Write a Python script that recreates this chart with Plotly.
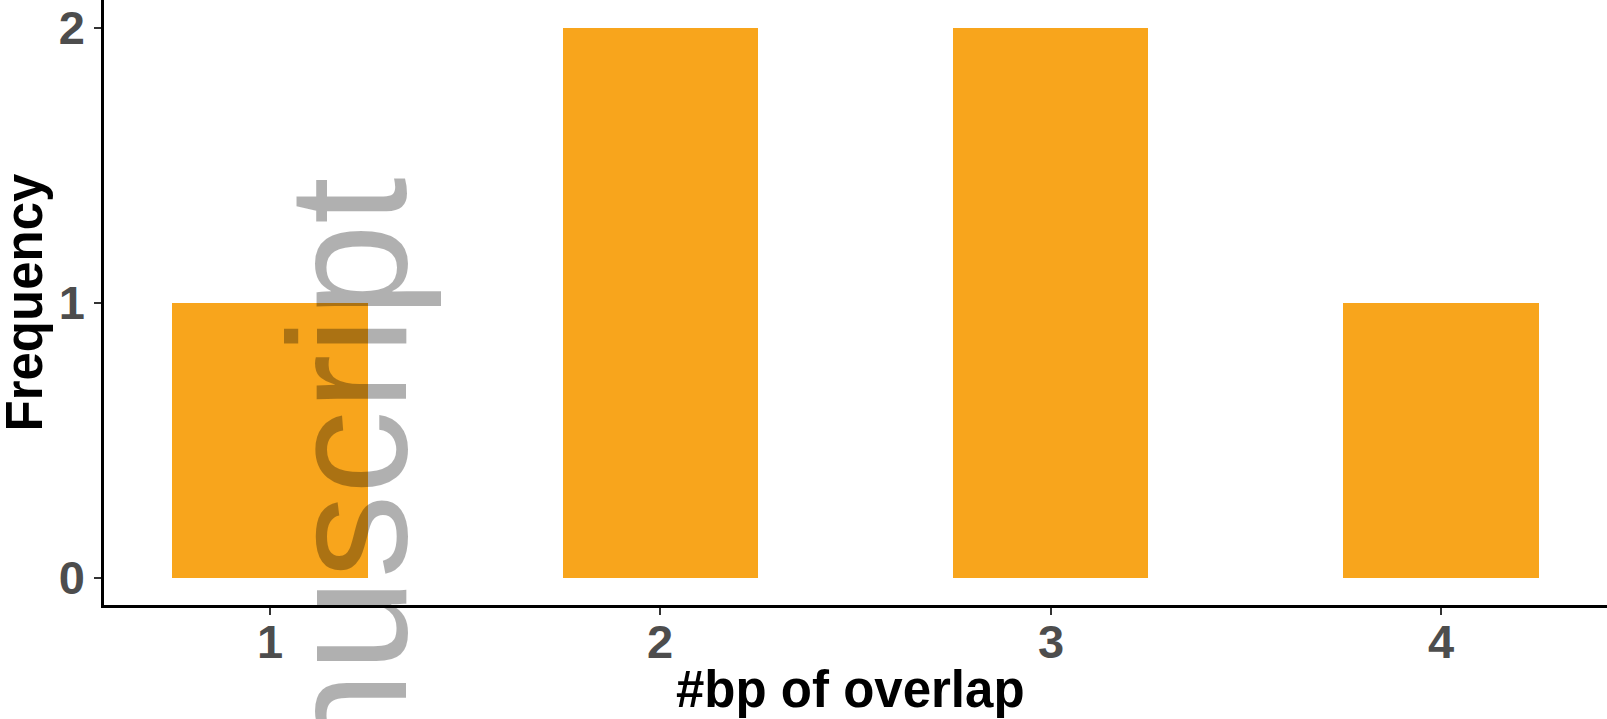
import plotly.graph_objects as go

overlap_bp = [1, 2, 3, 4]
frequency = [1, 2, 2, 1]
x_tick_labels = ["1", "2", "3", "4"]
y_tick_vals = [0, 1, 2]
x_title = "#bp of overlap"
y_title = "Frequency"
watermark = "Author Manuscript"

W, H = 1607, 719
L, R, T, B = 104, 0, 0, 114
PW, PH = W - L - R, H - T - B

fig = go.Figure()
fig.add_trace(go.Bar(
    x=overlap_bp, y=frequency, width=0.5,
    marker=dict(color="#F8A51C", line=dict(width=0)),
))

tickfont = dict(family="Liberation Sans, Arial", size=47, color="#4D4D4D", weight="bold")
titlefont = dict(family="Liberation Sans, Arial", size=51, color="#000000", weight="bold")

fig.update_layout(
    width=W, height=H,
    margin=dict(l=L, r=R, t=T, b=B, pad=0, autoexpand=False),
    paper_bgcolor="white", plot_bgcolor="white",
    showlegend=False,
    bargap=0,
    xaxis=dict(
        range=[0.575, 4.425], tickvals=overlap_bp, showticklabels=False,
        showgrid=False, zeroline=False, automargin=False,
        showline=True, linecolor="black", linewidth=2.5,
        ticks="outside", ticklen=7, tickwidth=2, tickcolor="#333333",
    ),
    yaxis=dict(
        range=[-0.1, 2.1], tickvals=y_tick_vals,
        showgrid=False, zeroline=False, automargin=False,
        showline=True, linecolor="black", linewidth=2.5,
        ticks="outside", ticklen=7, tickwidth=2, tickcolor="#333333",
        tickfont=tickfont,
    ),
)

# x tick labels, placed on the x axis scale just under the axis line
for xv, lab in zip(overlap_bp, x_tick_labels):
    fig.add_annotation(
        text=lab, xref="x", yref="paper", x=xv, y=0,
        xanchor="center", yanchor="middle", yshift=-36,
        showarrow=False, font=tickfont,
    )

# x-axis title
fig.add_annotation(
    text=x_title, xref="paper", yref="paper",
    x=(850 - L) / PW, y=0, yshift=-84,
    xanchor="center", yanchor="middle",
    showarrow=False, font=titlefont,
)

# y-axis title
fig.add_annotation(
    text=y_title, textangle=-90,
    xref="paper", yref="paper",
    x=(24 - L) / PW, y=0.5,
    xanchor="center", yanchor="middle",
    showarrow=False, font=titlefont,
)

# watermark overlay (rotated, semi-transparent)
px_x = 347
px_top = 176
fig.add_annotation(
    text=watermark, textangle=-90,
    xref="paper", yref="paper",
    x=(px_x - L) / PW, y=1 - (px_top - T) / PH,
    xanchor="center", yanchor="top",
    showarrow=False,
    font=dict(family="Liberation Sans, Arial", size=168, color="rgba(0,0,0,0.31)"),
)

fig.write_html("out.html", config={"displayModeBar": False},
               post_script="document.body.style.margin='0';")
